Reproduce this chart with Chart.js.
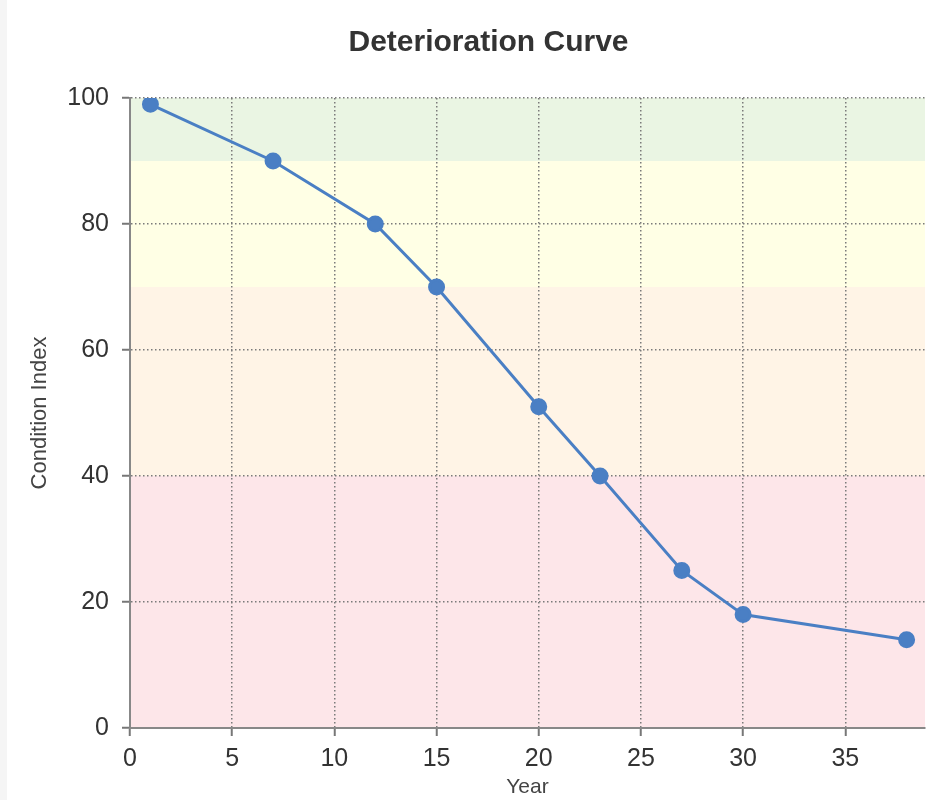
<!DOCTYPE html>
<html>
<head>
<meta charset="utf-8">
<script src="https://cdn.jsdelivr.net/npm/chart.js@4"></script>
<style>
    body { margin: 0; background: #fff; }
    #wrap { position: relative; width: 927px; height: 800px; }
    #edge { position: absolute; left: 0; top: 0; width: 7px; height: 800px; background: #f5f5f5; }
    #chart { position: absolute; left: 0; top: 0; }
</style>
</head>
<body>
<div id="wrap">
    <div id="edge"></div>
    <canvas id="chart" width="927" height="800"></canvas>
</div>
<script>
const years = [1, 7, 12, 15, 20, 23, 27, 30, 38]
const conditionIndex = [99, 90, 80, 70, 51, 40, 25, 18, 14]
const yearTicks = [0, 5, 10, 15, 20, 25, 30, 35]

// condition bands: [from, to, colour]
const bandFrom = [90, 70, 40, 0]
const bandTo = [100, 90, 70, 40]
const bandColors = ["#eaf5e3", "#ffffe5", "#fff4e6", "#fde6e9"]

const bandsPlugin = {
    id: "bands",
    beforeDraw(chart) {
        const ctx = chart.ctx
        const area = chart.chartArea
        const y = chart.scales.y
        ctx.save()
        for (let i = 0; i < bandFrom.length; i++) {
            const top = y.getPixelForValue(bandTo[i])
            const bottom = y.getPixelForValue(bandFrom[i])
            ctx.fillStyle = bandColors[i]
            ctx.fillRect(area.left, top, area.right - area.left, bottom - top)
        }
        ctx.restore()
    }
}

let points = []
for (let i = 0; i < years.length; i++) {
    points.push({ x: years[i], y: conditionIndex[i] })
}

const gridStyle = {
    color: "#7a7a7a",
    lineWidth: 1.5,
    drawTicks: true,
    tickLength: 8,
    tickColor: "#777",
    tickWidth: 2,
    tickBorderDash: [],
}

const borderStyle = { display: true, color: "#888", width: 2, dash: [1.5, 2.5] }

new Chart(document.querySelector("#chart"), {
    type: "line",
    data: {
        datasets: [{
            label: "Condition Index",
            data: points,
            borderColor: "#4a7fc4",
            backgroundColor: "#4a7fc4",
            borderWidth: 3,
            pointRadius: 7,
            pointHoverRadius: 7,
            tension: 0,
        }]
    },
    options: {
        responsive: false,
        animation: false,
        layout: { autoPadding: false, padding: { left: 52, right: 2, top: 0, bottom: 0 } },
        plugins: {
            legend: { display: false },
            tooltip: { enabled: false },
            title: {
                display: true,
                text: "Deterioration Curve",
                color: "#333",
                font: { family: "Liberation Sans", size: 30, weight: "bold" },
                padding: { top: 25, bottom: 37 },
            },
        },
        scales: {
            x: {
                type: "linear",
                min: 0,
                max: 38.9,
                grid: gridStyle,
                border: borderStyle,
                afterBuildTicks: s => { s.ticks = yearTicks.map(v => ({ value: v })) },
                ticks: {
                    color: "#333",
                    padding: 8,
                    maxRotation: 0,
                    autoSkip: false,
                    font: { family: "Liberation Sans", size: 25 },
                },
                title: {
                    display: true,
                    text: "Year",
                    color: "#444",
                    padding: 0,
                    font: { family: "Liberation Sans", size: 21 },
                },
                afterFit: s => { s.height = 72 },
            },
            y: {
                min: 0,
                max: 100,
                grid: gridStyle,
                border: borderStyle,
                ticks: {
                    stepSize: 20,
                    color: "#333",
                    padding: 13,
                    font: { family: "Liberation Sans", size: 25 },
                },
                title: {
                    display: true,
                    text: "Condition Index",
                    color: "#444",
                    padding: { top: -25, bottom: 0 },
                    font: { family: "Liberation Sans", size: 22 },
                },
                afterFit: s => { s.width = 78 },
            },
        },
    },
    plugins: [bandsPlugin],
})
</script>
</body>
</html>
